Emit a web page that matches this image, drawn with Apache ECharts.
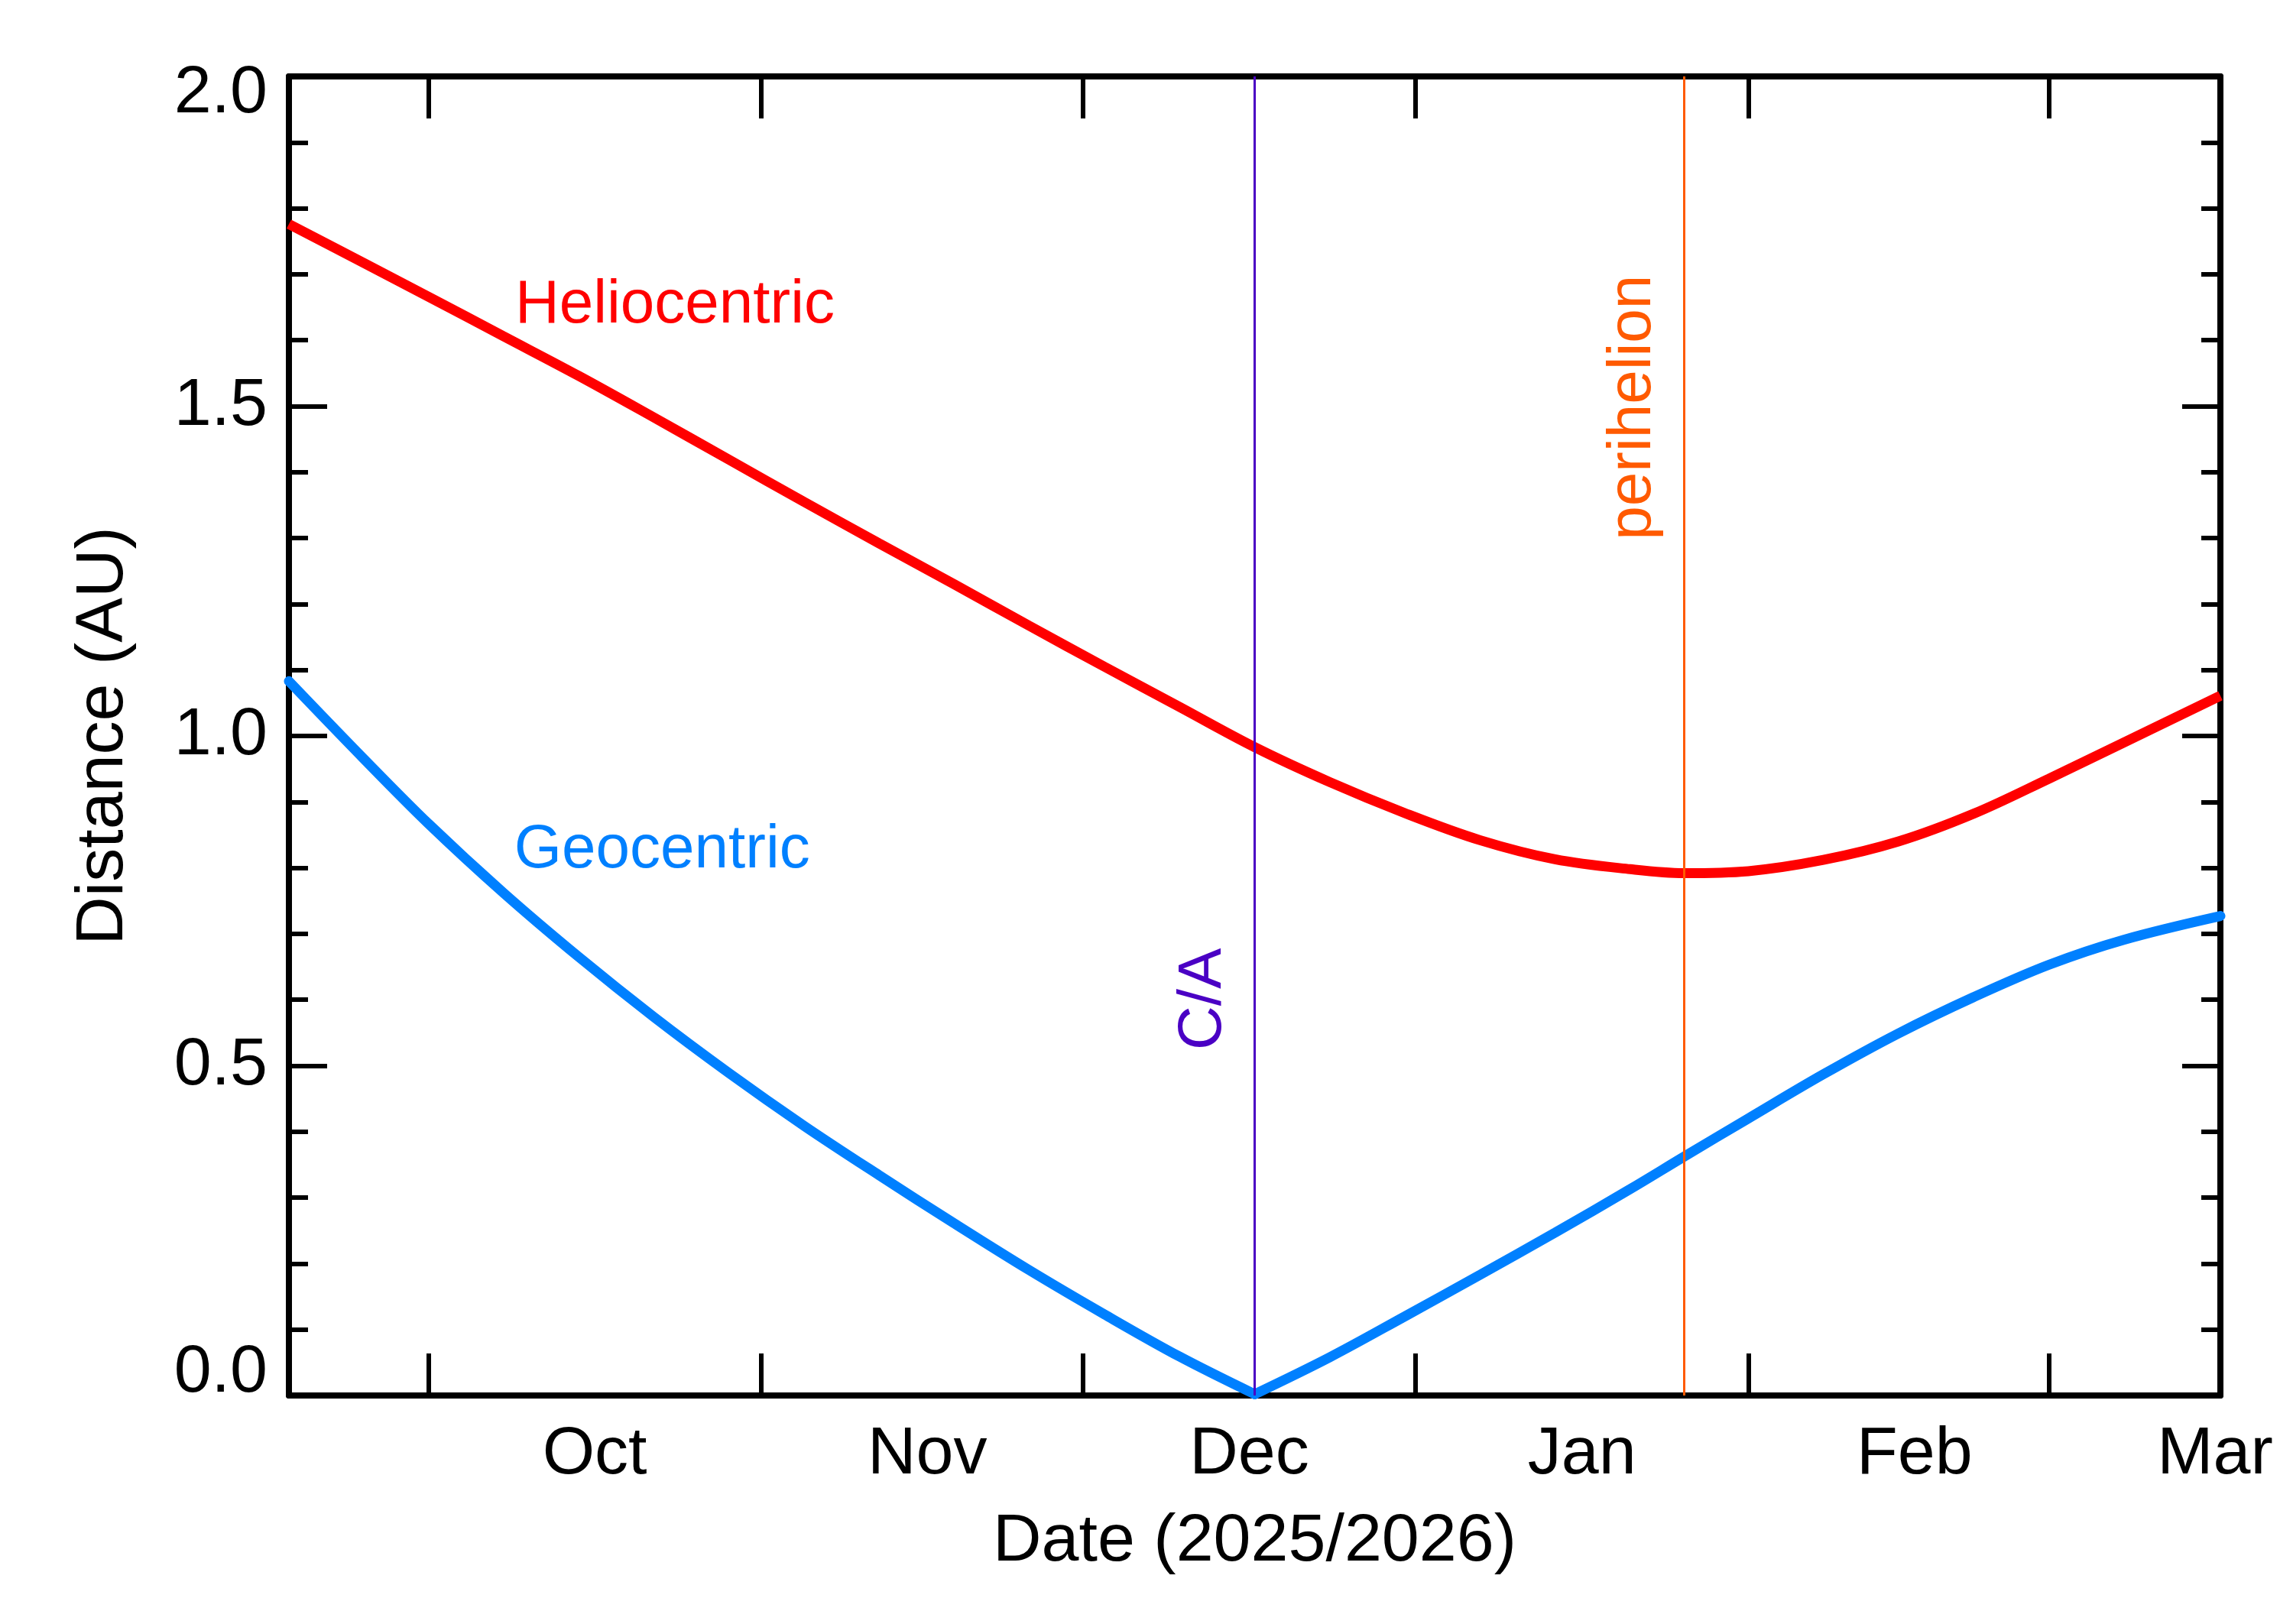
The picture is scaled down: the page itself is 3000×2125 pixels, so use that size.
<!DOCTYPE html>
<html lang="en">
<head>
    <meta charset="UTF-8">
    <title>Distance (AU) 2025/2026</title>
    <script src="https://cdn.jsdelivr.net/npm/echarts@6.0.0/dist/echarts.min.js"></script>
    <style>
        body { margin: 0; background: #fff; }
        #chart { width: 3000px; height: 2125px; }
    </style>
</head>
<body>
    <div id="chart"></div>

    <script>
        // data (AU)
        const dates = [
            '2025-09-18', '2025-09-25', '2025-10-01', '2025-10-08', '2025-10-15',
            '2025-10-22', '2025-10-29', '2025-11-05', '2025-11-12', '2025-11-19',
            '2025-11-26', '2025-12-03', '2025-12-10', '2025-12-17', '2025-12-24',
            '2025-12-31', '2026-01-07', '2026-01-14', '2026-01-21', '2026-01-26',
            '2026-02-01', '2026-02-08', '2026-02-15', '2026-02-22', '2026-03-01',
            '2026-03-08', '2026-03-17'
        ];
        const helio = [
            1.776, 1.717, 1.666, 1.606, 1.546,
            1.483, 1.419, 1.355, 1.292, 1.230,
            1.167, 1.105, 1.044, 0.983, 0.930,
            0.883, 0.842, 0.813, 0.798, 0.792,
            0.795, 0.812, 0.840, 0.882, 0.935,
            0.990, 1.061
        ];
        const geo = [
            1.083, 0.965, 0.867, 0.762, 0.665,
            0.574, 0.489, 0.409, 0.334, 0.261,
            0.190, 0.123, 0.059, 0.002, 0.058,
            0.120, 0.183, 0.247, 0.313, 0.362,
            0.420, 0.487, 0.549, 0.604, 0.653,
            0.691, 0.727
        ];

        const eventNames = ['C/A', 'perihelion'];
        const eventDates = ['2025-12-17', '2026-01-26'];

        const xStart = '2025-09-18';
        const xEnd = '2026-03-17';
        const tickDates = ['2025-10-01', '2025-11-01', '2025-12-01', '2026-01-01', '2026-02-01', '2026-03-01'];
        const monthLabels = ['Oct', 'Nov', 'Dec', 'Jan', 'Feb', 'Mar'];
        const yTicks = [0, 0.5, 1.0, 1.5, 2.0];

        // local-time timestamp from 'YYYY-MM-DD' (optional hour offset)
        function ts(s, h) {
            const p = s.split('-').map(Number);
            return new Date(p[0], p[1] - 1, p[2], h || 0).getTime();
        }

        const FONT = '"Liberation Sans", Arial, Helvetica, sans-serif';
        const tickTs = tickDates.map(d => ts(d));
        // month names sit in the middle of each month
        const labelTs = tickDates.map(d => ts(d) + 15.5 * 86400000);

        // geocentric has a sharp minimum at C/A: smooth each side separately
        const caIdx = dates.indexOf(eventDates[0]);
        const geoPts = dates.map((d, i) => [ts(d), geo[i]]);

        const chart = echarts.init(document.getElementById('chart'));

        // x is a plain value axis in ms so custom tick positions work
        const xTick = { show: true, inside: true, length: 55, customValues: tickTs,
                        lineStyle: { color: '#000', width: 6 } };
        const yTick = { show: true, inside: true, length: 50,
                        lineStyle: { color: '#000', width: 6 } };
        const yMinor = { show: true, splitNumber: 5, length: 25,
                         lineStyle: { color: '#000', width: 6 } };
        const axisLine = { show: true, onZero: false, lineStyle: { color: '#000', width: 8 } };

        const LW = 13;

        const option = {
            animation: false,
            backgroundColor: '#fff',
            grid: { left: 378, top: 100, right: 95, bottom: 299 },
            xAxis: [
                {
                    type: 'value',
                    min: ts(xStart), max: ts(xEnd),
                    axisLine: axisLine,
                    axisTick: xTick,
                    splitLine: { show: false },
                    axisLabel: {
                        customValues: labelTs,
                        margin: 34,
                        color: '#000',
                        fontSize: 88,
                        fontFamily: FONT,
                        formatter: function (v) {
                            const i = labelTs.indexOf(v);
                            return i >= 0 ? monthLabels[i] : '';
                        }
                    },
                    name: 'Date (2025/2026)',
                    nameLocation: 'middle',
                    nameGap: 148,
                    nameTextStyle: { color: '#000', fontSize: 88, fontFamily: FONT }
                },
                {
                    type: 'value', position: 'top',
                    min: ts(xStart), max: ts(xEnd),
                    axisLine: axisLine,
                    axisTick: xTick,
                    axisLabel: { show: false },
                    splitLine: { show: false }
                }
            ],
            yAxis: [
                {
                    type: 'value',
                    min: 0, max: 2, interval: 0.5,
                    axisLine: axisLine,
                    axisTick: yTick,
                    minorTick: yMinor,
                    splitLine: { show: false },
                    axisLabel: {
                        margin: 28,
                        color: '#000',
                        fontSize: 88,
                        fontFamily: FONT,
                        formatter: function (v) {
                            const s = v.toFixed(1);
                            if (v === yTicks[0]) return '{lo|' + s + '}';
                            if (v === yTicks[yTicks.length - 1]) return '{hi|' + s + '}';
                            return s;
                        },
                        rich: {
                            lo: { fontSize: 88, fontFamily: FONT, color: '#000', padding: [0, 0, 58, 0] },
                            hi: { fontSize: 88, fontFamily: FONT, color: '#000', padding: [46, 0, 0, 0] }
                        }
                    },
                    name: 'Distance (AU)',
                    nameLocation: 'middle',
                    nameGap: 198,
                    nameTextStyle: { color: '#000', fontSize: 88, fontFamily: FONT }
                },
                {
                    type: 'value', position: 'right',
                    min: 0, max: 2, interval: 0.5,
                    axisLine: axisLine,
                    axisTick: yTick,
                    minorTick: yMinor,
                    axisLabel: { show: false },
                    splitLine: { show: false }
                }
            ],
            series: [
                {
                    name: 'Heliocentric',
                    type: 'line',
                    showSymbol: false,
                    smooth: 0.35,
                    data: dates.map((d, i) => [ts(d), helio[i]]),
                    lineStyle: { color: '#ff0000', width: LW },
                    itemStyle: { color: '#ff0000' },
                    z: 3,
                    markLine: {
                        silent: true,
                        symbol: 'none',
                        label: { show: false },
                        data: [
                            { xAxis: ts(eventDates[0]), lineStyle: { color: '#4a00c4', width: 3, type: 'solid' } },
                            { xAxis: ts(eventDates[1]), lineStyle: { color: '#ff5a00', width: 3, type: 'solid' } }
                        ]
                    }
                },
                {
                    name: 'Geocentric',
                    type: 'line',
                    showSymbol: false,
                    smooth: 0.35,
                    data: geoPts.slice(0, caIdx + 1),
                    lineStyle: { color: '#0080ff', width: LW, cap: 'round' },
                    itemStyle: { color: '#0080ff' },
                    z: 4
                },
                {
                    name: 'Geocentric',
                    type: 'line',
                    showSymbol: false,
                    smooth: 0.35,
                    data: geoPts.slice(caIdx),
                    lineStyle: { color: '#0080ff', width: LW, cap: 'round' },
                    itemStyle: { color: '#0080ff' },
                    z: 4
                }
            ]
        };

        chart.setOption(option);

        // text annotations, placed through the axes
        function px(t, v) { return chart.convertToPixel({ xAxisIndex: 0, yAxisIndex: 0 }, [t, v]); }
        function txt(p, text, color, rot, align, dx) {
            return {
                type: 'text', x: p[0] + (dx || 0), y: p[1], rotation: rot || 0, z: 10,
                style: { text: text, fill: color, fontSize: 80, fontFamily: FONT,
                         align: align, verticalAlign: 'middle' }
            };
        }
        chart.setOption({
            graphic: [
                txt(px(ts('2025-10-09', 2), 1.652), 'Heliocentric', '#ff0000', 0, 'left'),
                txt(px(ts('2025-10-09', 0), 0.826), 'Geocentric', '#0080ff', 0, 'left'),
                txt(px(ts(eventDates[0]), 0.601), eventNames[0], '#4a00c4', Math.PI / 2, 'center', -67),
                txt(px(ts(eventDates[1]), 1.498), eventNames[1], '#ff5a00', Math.PI / 2, 'center', -66)
            ]
        });
    </script>
</body>
</html>
